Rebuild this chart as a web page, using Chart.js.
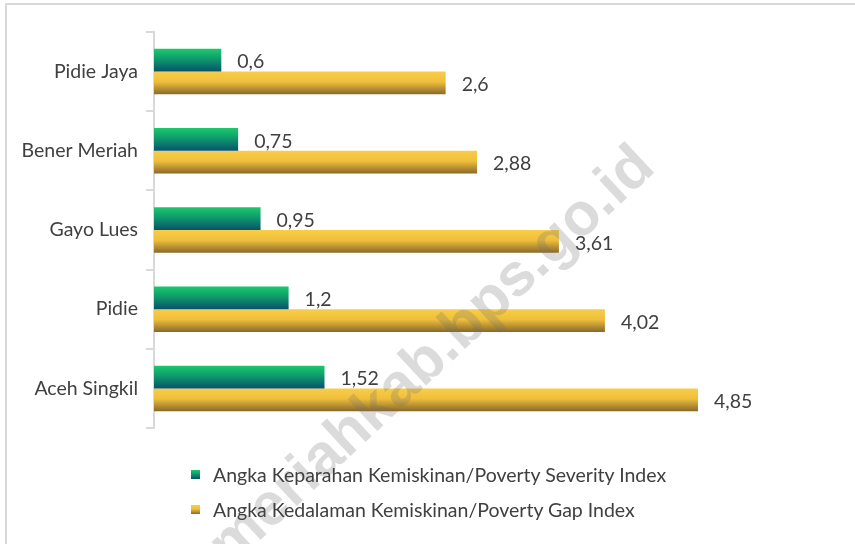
<!DOCTYPE html>
<html>
<head>
<meta charset="utf-8">
<script src="https://cdn.jsdelivr.net/npm/chart.js@4"></script>
<style>
  html, body { margin: 0; padding: 0; background: #fff; }
  #wrap { position: relative; width: 855px; height: 544px; overflow: hidden; }
  #frame { position: absolute; left: 5px; top: 3px; width: 900px; height: 600px;
           border-left: 2px solid #d9d9d9; border-top: 2px solid #d9d9d9; }
  #chart { position: absolute; left: 0; top: 0; }
  #legend { position: absolute; left: 191px; top: 457px; font-family: Lato, sans-serif;
            font-size: 19.5px; color: #404040; }
  #legend .item { height: 35px; display: flex; align-items: center; }
  #legend .box { width: 9px; height: 9px; margin-right: 13px; }
</style>
</head>
<body>
<div id="wrap">
  <div id="frame"></div>
  <canvas id="chart" width="855" height="544"></canvas>
  <div id="legend"></div>
</div>
<script>
// -----------------------------
// Data
// -----------------------------
const categories = ['Pidie Jaya', 'Bener Meriah', 'Gayo Lues', 'Pidie', 'Aceh Singkil'];
const severityIndex = [0.6, 0.75, 0.95, 1.2, 1.52];
const gapIndex = [2.6, 2.88, 3.61, 4.02, 4.85];
const seriesNames = [
    'Angka Keparahan Kemiskinan/Poverty Severity Index',
    'Angka Kedalaman Kemiskinan/Poverty Gap Index'
];

const greenStops = [[0, '#1bc96d'], [0.45, '#0f9a6c'], [1, '#07526d']];
const goldStops = [[0, '#f9cd47'], [0.45, '#efbf3c'], [1, '#89692a']];
const CAT_PCT = 0.575;

// vertical gradient per bar, from the y scale
function barGradient(stops, half) {
    return function(ctx) {
        const chart = ctx.chart;
        const y = chart.scales.y;
        if (!y || !chart.chartArea) return stops[1][1];
        const center = y.getPixelForValue(ctx.dataIndex);
        const band = (y.bottom - y.top) / categories.length;
        const h = band * CAT_PCT / 2;
        const top = half === 0 ? center - h : center;
        const g = chart.ctx.createLinearGradient(0, top, 0, top + h);
        stops.forEach(s => g.addColorStop(s[0], s[1]));
        return g;
    };
}

// -----------------------------
// Value labels + watermark
// -----------------------------
const valueLabels = {
    id: 'valueLabels',
    afterDatasetsDraw(chart) {
        const ctx = chart.ctx;
        ctx.save();
        ctx.font = '19.5px Lato, sans-serif';
        ctx.fillStyle = '#404040';
        ctx.textBaseline = 'middle';
        ctx.textAlign = 'left';
        chart.data.datasets.forEach((ds, i) => {
            chart.getDatasetMeta(i).data.forEach((bar, j) => {
                ctx.fillText(String(ds.data[j]).replace('.', ','), bar.x + 16, bar.y + 2);
            });
        });
        ctx.restore();
    },
    afterDraw(chart) {
        const ctx = chart.ctx;
        ctx.save();
        ctx.translate(657, 170);
        ctx.rotate(-43 * Math.PI / 180);
        ctx.font = 'bold 60px "Liberation Sans", Arial, sans-serif';
        ctx.fillStyle = 'rgba(110,110,110,0.25)';
        ctx.textAlign = 'right';
        ctx.textBaseline = 'alphabetic';
        ctx.fillText('benermeriahkab.bps.go.id', 0, 0);
        ctx.restore();
    }
};

// -----------------------------
// Chart
// -----------------------------
const chart = new Chart(document.getElementById('chart'), {
    type: 'bar',
    data: {
        labels: categories,
        datasets: [
            { label: seriesNames[0], data: severityIndex, backgroundColor: barGradient(greenStops, 0) },
            { label: seriesNames[1], data: gapIndex, backgroundColor: barGradient(goldStops, 1) }
        ]
    },
    options: {
        indexAxis: 'y',
        responsive: false,
        animation: false,
        events: [],
        layout: { padding: { left: 0, top: 32, right: 28, bottom: 116 } },
        datasets: { bar: { categoryPercentage: CAT_PCT, barPercentage: 1 } },
        plugins: { legend: { display: false }, tooltip: { enabled: false } },
        scales: {
            x: { display: false, min: 0, max: 6 },
            y: {
                afterFit(scale) { scale.width = 154; },
                border: { display: true, color: '#d9d9d9', width: 2 },
                grid: { drawOnChartArea: false, offset: true, tickLength: 8, color: '#d9d9d9', lineWidth: 2 },
                ticks: { padding: 8, color: '#404040', font: { family: 'Lato, sans-serif', size: 19.5 } }
            }
        }
    },
    plugins: [valueLabels]
});

// -----------------------------
// Legend
// -----------------------------
const legend = document.getElementById('legend');
[greenStops, goldStops].forEach((stops, i) => {
    const item = document.createElement('div');
    item.className = 'item';
    const box = document.createElement('span');
    box.className = 'box';
    box.style.background = 'linear-gradient(' + stops.map(s => s[1] + ' ' + (s[0] * 100) + '%').join(',') + ')';
    const txt = document.createElement('span');
    txt.textContent = seriesNames[i];
    item.appendChild(box);
    item.appendChild(txt);
    legend.appendChild(item);
});
</script>
</body>
</html>
